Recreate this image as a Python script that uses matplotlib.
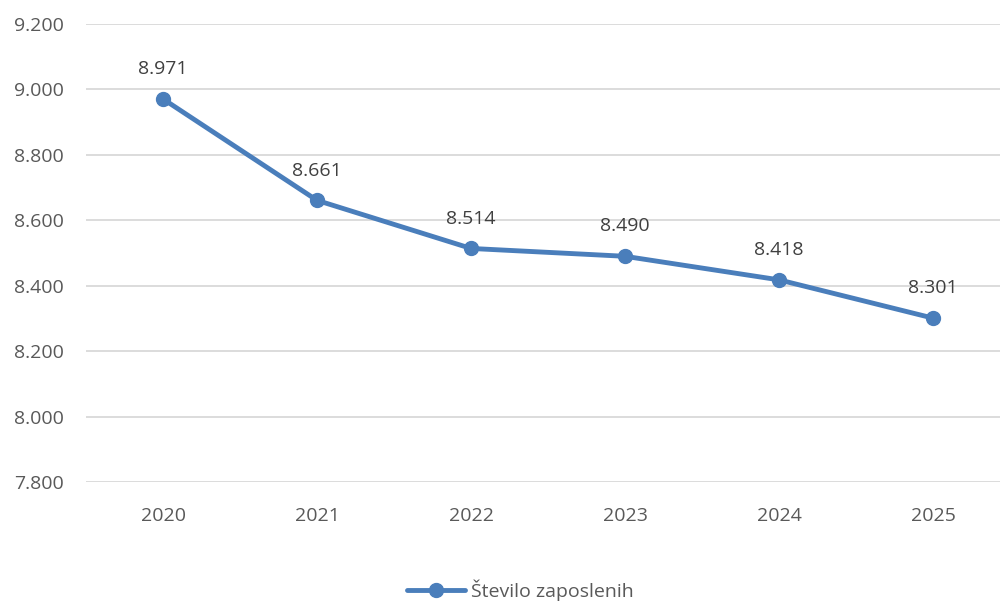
import matplotlib.pyplot as plt
from matplotlib.ticker import FuncFormatter

# data
years = ['2020', '2021', '2022', '2023', '2024', '2025']
employees = [8971, 8661, 8514, 8490, 8418, 8301]
series_name = 'Število zaposlenih'

plt.rcParams['font.family'] = ['Open Sans', 'DejaVu Sans']
text_col = '#595959'
line_col = '#4A7EBB'

fig = plt.figure(figsize=(10, 6.01), dpi=100)
ax = fig.add_axes([0.086, 0.198, 0.914, 0.762])

x = list(range(len(years)))
ax.plot(x, employees, color=line_col, lw=3.5, marker='o', ms=10,
        label=series_name, solid_capstyle='round')

for xi, v in zip(x, employees):
    ax.annotate(f'{v:,}'.replace(',', '.'), (xi, v), xytext=(0, 15),
                textcoords='offset points', ha='center', va='bottom',
                fontsize=14, color='#404040')

ax.set_ylim(7800, 9200)
ax.set_yticks(range(7800, 9201, 200))
ax.yaxis.set_major_formatter(FuncFormatter(lambda v, p: f'{int(v):,}'.replace(',', '.')))
ax.set_xlim(-0.5, 5.435)
ax.set_xticks(x)
ax.set_xticklabels(years)

ax.grid(axis='y', color='#D9D9D9', lw=1.3)
ax.set_axisbelow(True)
for s in ax.spines.values():
    s.set_visible(False)
ax.tick_params(length=0, labelsize=14, colors=text_col, pad=18)
ax.tick_params(axis='y', pad=16)

fig.legend(loc='center', bbox_to_anchor=(0.52, 0.018), frameon=False,
           fontsize=14, labelcolor=text_col, handlelength=3, handletextpad=0.3)

fig.savefig('out.png')
